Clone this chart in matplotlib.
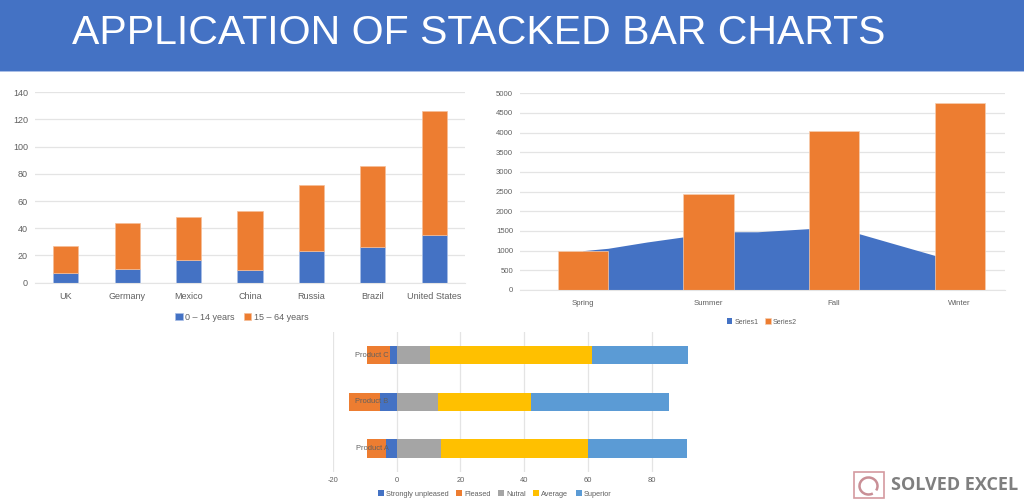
"""
Slide: application of stacked bar charts - three small Excel style charts under a blue banner
"""

import matplotlib
matplotlib.use("Agg")

import matplotlib.pyplot as plt
from matplotlib.patches import Rectangle, Arc
import numpy as np

# ── data ─────────────────────────────────────────────────────────────────────
title = "APPLICATION OF STACKED BAR CHARTS"

countries = ["UK", "Germany", "Mexico", "China", "Russia", "Brazil", "United States"]
young = [7, 10, 17, 9, 23, 26, 35]
working = [20, 34, 31, 44, 49, 60, 91]

seasons = ["Spring", "Summer", "Fall", "Winter"]
series2 = [1000, 2430, 4050, 4750]
series1_x = [0, 0.2, 0.51, 0.8, 1, 1.2, 1.39, 1.8, 2, 2.2, 2.45, 2.8, 3]
series1_y = [1000, 1060, 1220, 1350, 1440, 1480, 1480, 1560, 1600, 1430, 1200, 880, 720]

products = ["Product A", "Product B", "Product C"]
strongly_unpleased = [3.2, 5.3, 2]
pleased = [6, 9.7, 7.2]
neutral = [14, 13, 10.5]
average = [46, 29, 50.7]
superior = [31, 43.2, 29.9]

# ── style ────────────────────────────────────────────────────────────────────
BLUE = "#4472C4"
ORANGE = "#ED7D31"
GRAY = "#A5A5A5"
GOLD = "#FFC000"
SKY = "#5B9BD5"
GRID = "#E4E4E4"
TEXT = "#606060"

plt.rcParams.update({
    "font.family": ["Liberation Sans", "DejaVu Sans"],
    "font.size": 7,
    "text.color": TEXT,
    "xtick.color": TEXT,
    "ytick.color": TEXT,
    "axes.unicode_minus": False,
})

W, H = 1024, 501
fig = plt.figure(figsize=(W / 100, H / 100), dpi=100)


def axes_px(left, top, right, bottom):
    ax = fig.add_axes([left / W, 1 - bottom / H, (right - left) / W, (bottom - top) / H])
    for side in ["top", "right", "left"]:
        ax.spines[side].set_visible(False)
    ax.spines["bottom"].set_color(GRID)
    ax.tick_params(length=0)
    ax.set_axisbelow(True)
    return ax


def legend_px(ax, x, y, fontsize):
    fig.legend(*ax.get_legend_handles_labels(), loc="center", ncol=5,
               bbox_to_anchor=(x / W, 1 - y / H), frameon=False, fontsize=fontsize,
               handlelength=0.8, handleheight=0.8, handletextpad=0.3, columnspacing=1.0)


# ── banner ───────────────────────────────────────────────────────────────────
fig.patches.append(Rectangle((0, 1 - 72 / H), 1, 1 / H, transform=fig.transFigure,
                             facecolor="#A9BEE6", edgecolor="none"))
fig.patches.append(Rectangle((0, 1 - 71 / H), 1, 71 / H, transform=fig.transFigure,
                             facecolor=BLUE, edgecolor="none"))
fig.text(72 / W, 1 - 44.5 / H, title, color="white", fontsize=29.5, va="baseline", ha="left")

# ── population chart ─────────────────────────────────────────────────────────
ax1 = axes_px(35, 92.3, 465, 282.7)
pos = np.arange(len(countries))
ax1.bar(pos, young, 0.41, color=BLUE, label="0 – 14 years", edgecolor="#A9BEE6", linewidth=0.5)
ax1.bar(pos, working, 0.41, bottom=young, color=ORANGE, label="15 – 64 years",
        edgecolor="#F6BE98", linewidth=0.5)
ax1.set_xlim(-0.5, 6.5)
ax1.set_ylim(0, 140)
ax1.set_yticks(range(0, 141, 20))
ax1.set_xticks(pos, countries)
ax1.tick_params(labelsize=6.5, pad=5)
ax1.tick_params(axis="x", pad=7)
ax1.grid(axis="y", color=GRID, linewidth=0.9)
legend_px(ax1, 242, 317, 6.5)

# ── seasons chart ────────────────────────────────────────────────────────────
ax2 = axes_px(520, 93.3, 1005, 290)
ax2.fill_between(series1_x, series1_y, color=BLUE, label="Series1", linewidth=0)
ax2.bar(range(4), series2, 0.4, color=ORANGE, label="Series2", edgecolor="#F6CDB0", linewidth=0.5)
ax2.set_xlim(-0.5, 3.36)
ax2.set_ylim(0, 5000)
ax2.set_yticks(range(0, 5001, 500))
ax2.set_xticks(range(4), seasons)
ax2.tick_params(labelsize=5.6, pad=5)
ax2.tick_params(axis="x", pad=7)
ax2.grid(axis="y", color=GRID, linewidth=0.9)
legend_px(ax2, 762, 322, 5)

# ── survey chart ─────────────────────────────────────────────────────────────
ax3 = axes_px(332.7, 331.7, 700, 471.7)
ax3.spines["bottom"].set_visible(False)
ypos = np.arange(len(products))
su = np.array(strongly_unpleased)
pl = np.array(pleased)
ne = np.array(neutral)
av = np.array(average)
sp = np.array(superior)
ax3.barh(ypos, -su, 0.4, color=BLUE, label="Strongly unpleased")
ax3.barh(ypos, -pl, 0.4, left=-su, color=ORANGE, label="Pleased")
ax3.barh(ypos, ne, 0.4, color=GRAY, label="Nutral")
ax3.barh(ypos, av, 0.4, left=ne, color=GOLD, label="Average")
ax3.barh(ypos, sp, 0.4, left=ne + av, color=SKY, label="Superior")
ax3.set_xlim(-20, 95)
ax3.set_ylim(-0.49, 2.5)
ax3.set_xticks(range(-20, 81, 20))
ax3.set_yticks([])
for i, name in enumerate(products):
    ax3.text(-2.5, i, name, ha="right", va="center", fontsize=5.4, color="#606060")
ax3.tick_params(axis="x", labelsize=5.4, pad=4)
ax3.grid(axis="x", color=GRID, linewidth=0.9)
legend_px(ax3, 495, 494, 5.3)

# ── watermark ────────────────────────────────────────────────────────────────
logo = fig.add_axes([0, 0, 1, 1], facecolor="none")
logo.set_xlim(0, W)
logo.set_ylim(H, 0)
logo.axis("off")
logo.add_patch(Rectangle((854, 471.5), 30, 26, facecolor="none", edgecolor="#D49AA0", linewidth=1.2))
logo.add_patch(Arc((868.5, 486), 18, 17, theta1=60, theta2=390, edgecolor="#C98F96", linewidth=1.8))
logo.text(891, 485, "SOLVED EXCEL", fontsize=13, fontweight="bold", color="#7F7F7F",
          va="center", ha="left", family=["Open Sans", "DejaVu Sans"])

fig.savefig("out.png", dpi=100)
